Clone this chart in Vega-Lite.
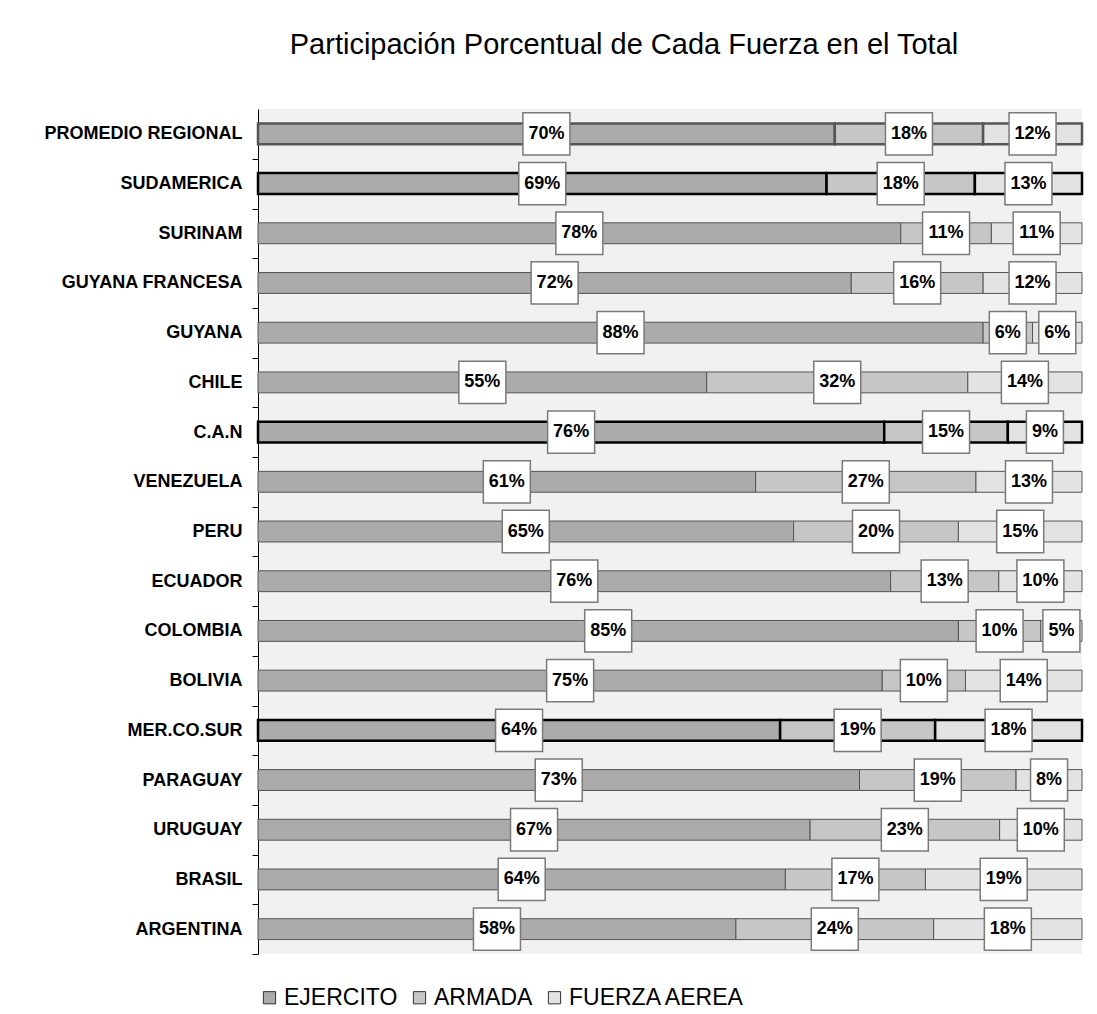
{
  "$schema": "https://vega.github.io/schema/vega-lite/v6.json",
  "width": 824,
  "height": 845,
  "autosize": {"type": "pad"},
  "padding": {"left": 8, "top": 31, "right": 12, "bottom": 4},
  "background": "white",
  "config": {
    "view": {"fill": "#f1f1f1", "stroke": null},
    "font": "Liberation Sans"
  },
  "title": {
    "text": "Participación Porcentual de Cada Fuerza en el Total",
    "font": "Liberation Sans",
    "fontSize": 29,
    "fontWeight": "normal",
    "color": "black",
    "anchor": "middle",
    "dx": -46,
    "offset": 49
  },
  "data": {
    "values": [
      {"pais": "PROMEDIO REGIONAL", "tipo": "regional", "fuerza": "EJERCITO", "orden": 1, "pct": 70},
      {"pais": "PROMEDIO REGIONAL", "tipo": "regional", "fuerza": "ARMADA", "orden": 2, "pct": 18},
      {"pais": "PROMEDIO REGIONAL", "tipo": "regional", "fuerza": "FUERZA AEREA", "orden": 3, "pct": 12},
      {"pais": "SUDAMERICA", "tipo": "bloque", "fuerza": "EJERCITO", "orden": 1, "pct": 69},
      {"pais": "SUDAMERICA", "tipo": "bloque", "fuerza": "ARMADA", "orden": 2, "pct": 18},
      {"pais": "SUDAMERICA", "tipo": "bloque", "fuerza": "FUERZA AEREA", "orden": 3, "pct": 13},
      {"pais": "SURINAM", "tipo": "pais", "fuerza": "EJERCITO", "orden": 1, "pct": 78},
      {"pais": "SURINAM", "tipo": "pais", "fuerza": "ARMADA", "orden": 2, "pct": 11},
      {"pais": "SURINAM", "tipo": "pais", "fuerza": "FUERZA AEREA", "orden": 3, "pct": 11},
      {"pais": "GUYANA FRANCESA", "tipo": "pais", "fuerza": "EJERCITO", "orden": 1, "pct": 72},
      {"pais": "GUYANA FRANCESA", "tipo": "pais", "fuerza": "ARMADA", "orden": 2, "pct": 16},
      {"pais": "GUYANA FRANCESA", "tipo": "pais", "fuerza": "FUERZA AEREA", "orden": 3, "pct": 12},
      {"pais": "GUYANA", "tipo": "pais", "fuerza": "EJERCITO", "orden": 1, "pct": 88},
      {"pais": "GUYANA", "tipo": "pais", "fuerza": "ARMADA", "orden": 2, "pct": 6},
      {"pais": "GUYANA", "tipo": "pais", "fuerza": "FUERZA AEREA", "orden": 3, "pct": 6},
      {"pais": "CHILE", "tipo": "pais", "fuerza": "EJERCITO", "orden": 1, "pct": 55},
      {"pais": "CHILE", "tipo": "pais", "fuerza": "ARMADA", "orden": 2, "pct": 32},
      {"pais": "CHILE", "tipo": "pais", "fuerza": "FUERZA AEREA", "orden": 3, "pct": 14},
      {"pais": "C.A.N", "tipo": "bloque", "fuerza": "EJERCITO", "orden": 1, "pct": 76},
      {"pais": "C.A.N", "tipo": "bloque", "fuerza": "ARMADA", "orden": 2, "pct": 15},
      {"pais": "C.A.N", "tipo": "bloque", "fuerza": "FUERZA AEREA", "orden": 3, "pct": 9},
      {"pais": "VENEZUELA", "tipo": "pais", "fuerza": "EJERCITO", "orden": 1, "pct": 61},
      {"pais": "VENEZUELA", "tipo": "pais", "fuerza": "ARMADA", "orden": 2, "pct": 27},
      {"pais": "VENEZUELA", "tipo": "pais", "fuerza": "FUERZA AEREA", "orden": 3, "pct": 13},
      {"pais": "PERU", "tipo": "pais", "fuerza": "EJERCITO", "orden": 1, "pct": 65},
      {"pais": "PERU", "tipo": "pais", "fuerza": "ARMADA", "orden": 2, "pct": 20},
      {"pais": "PERU", "tipo": "pais", "fuerza": "FUERZA AEREA", "orden": 3, "pct": 15},
      {"pais": "ECUADOR", "tipo": "pais", "fuerza": "EJERCITO", "orden": 1, "pct": 76},
      {"pais": "ECUADOR", "tipo": "pais", "fuerza": "ARMADA", "orden": 2, "pct": 13},
      {"pais": "ECUADOR", "tipo": "pais", "fuerza": "FUERZA AEREA", "orden": 3, "pct": 10},
      {"pais": "COLOMBIA", "tipo": "pais", "fuerza": "EJERCITO", "orden": 1, "pct": 85},
      {"pais": "COLOMBIA", "tipo": "pais", "fuerza": "ARMADA", "orden": 2, "pct": 10},
      {"pais": "COLOMBIA", "tipo": "pais", "fuerza": "FUERZA AEREA", "orden": 3, "pct": 5},
      {"pais": "BOLIVIA", "tipo": "pais", "fuerza": "EJERCITO", "orden": 1, "pct": 75},
      {"pais": "BOLIVIA", "tipo": "pais", "fuerza": "ARMADA", "orden": 2, "pct": 10},
      {"pais": "BOLIVIA", "tipo": "pais", "fuerza": "FUERZA AEREA", "orden": 3, "pct": 14},
      {"pais": "MER.CO.SUR", "tipo": "bloque", "fuerza": "EJERCITO", "orden": 1, "pct": 64},
      {"pais": "MER.CO.SUR", "tipo": "bloque", "fuerza": "ARMADA", "orden": 2, "pct": 19},
      {"pais": "MER.CO.SUR", "tipo": "bloque", "fuerza": "FUERZA AEREA", "orden": 3, "pct": 18},
      {"pais": "PARAGUAY", "tipo": "pais", "fuerza": "EJERCITO", "orden": 1, "pct": 73},
      {"pais": "PARAGUAY", "tipo": "pais", "fuerza": "ARMADA", "orden": 2, "pct": 19},
      {"pais": "PARAGUAY", "tipo": "pais", "fuerza": "FUERZA AEREA", "orden": 3, "pct": 8},
      {"pais": "URUGUAY", "tipo": "pais", "fuerza": "EJERCITO", "orden": 1, "pct": 67},
      {"pais": "URUGUAY", "tipo": "pais", "fuerza": "ARMADA", "orden": 2, "pct": 23},
      {"pais": "URUGUAY", "tipo": "pais", "fuerza": "FUERZA AEREA", "orden": 3, "pct": 10},
      {"pais": "BRASIL", "tipo": "pais", "fuerza": "EJERCITO", "orden": 1, "pct": 64},
      {"pais": "BRASIL", "tipo": "pais", "fuerza": "ARMADA", "orden": 2, "pct": 17},
      {"pais": "BRASIL", "tipo": "pais", "fuerza": "FUERZA AEREA", "orden": 3, "pct": 19},
      {"pais": "ARGENTINA", "tipo": "pais", "fuerza": "EJERCITO", "orden": 1, "pct": 58},
      {"pais": "ARGENTINA", "tipo": "pais", "fuerza": "ARMADA", "orden": 2, "pct": 24},
      {"pais": "ARGENTINA", "tipo": "pais", "fuerza": "FUERZA AEREA", "orden": 3, "pct": 18}
    ]
  },
  "transform": [
    {"stack": "pct", "groupby": ["pais"], "sort": [{"field": "orden", "order": "ascending"}], "offset": "normalize", "as": ["x0", "x1"]},
    {"calculate": "(datum.x0 + datum.x1) / 2", "as": "mid"},
    {"calculate": "datum.pct + '%'", "as": "etiqueta"}
  ],
  "encoding": {
    "y": {
      "field": "pais",
      "type": "nominal",
      "sort": ["PROMEDIO REGIONAL", "SUDAMERICA", "SURINAM", "GUYANA FRANCESA", "GUYANA", "CHILE", "C.A.N", "VENEZUELA", "PERU", "ECUADOR", "COLOMBIA", "BOLIVIA", "MER.CO.SUR", "PARAGUAY", "URUGUAY", "BRASIL", "ARGENTINA"],
      "scale": {"paddingInner": 0.58, "paddingOuter": 0.29},
      "axis": {
        "title": null,
        "labelFont": "Liberation Sans",
        "labelFontSize": 18,
        "labelFontWeight": "bold",
        "labelColor": "black",
        "labelPadding": 10,
        "labelLimit": 0,
        "labelOffset": -25,
        "domainColor": "black",
        "tickColor": "black",
        "tickSize": 6,
        "tickOffset": 25,
        "grid": false,
        "minExtent": 250,
        "maxExtent": 250
      }
    }
  },
  "layer": [
    {
      "mark": {"type": "bar"},
      "encoding": {
        "x": {"field": "x0", "type": "quantitative", "scale": {"domain": [0, 1], "nice": false}, "axis": null},
        "x2": {"field": "x1"},
        "fill": {
          "field": "fuerza",
          "type": "nominal",
          "scale": {"domain": ["EJERCITO", "ARMADA", "FUERZA AEREA"], "range": ["#ababab", "#c6c6c6", "#e3e3e3"]},
          "legend": {
            "title": null,
            "orient": "bottom",
            "direction": "horizontal",
            "offset": 32,
            "symbolType": "square",
            "symbolSize": 150,
            "symbolStrokeColor": "#333",
            "symbolStrokeWidth": 1,
            "labelFont": "Liberation Sans",
            "labelFontSize": 23,
            "labelColor": "black",
            "labelOffset": 3,
            "labelLimit": 0,
            "columnPadding": 10
          }
        },
        "stroke": {"condition": {"test": "datum.tipo === 'bloque'", "value": "#000000"}, "value": "#555555"},
        "strokeWidth": {"condition": {"test": "datum.tipo !== 'pais'", "value": 2.5}, "value": 1}
      }
    },
    {
      "transform": [{"filter": "datum.pct >= 10"}],
      "mark": {"type": "point", "shape": "M-1,-0.9H1V0.9H-1Z", "size": 2209, "filled": true, "fill": "white", "stroke": "#7a7a7a", "strokeWidth": 1.5, "opacity": 1},
      "encoding": {
        "x": {"field": "mid", "type": "quantitative"}
      }
    },
    {
      "transform": [{"filter": "datum.pct < 10"}],
      "mark": {"type": "point", "shape": "M-1,-1.14H1V1.14H-1Z", "size": 1369, "filled": true, "fill": "white", "stroke": "#7a7a7a", "strokeWidth": 1.5, "opacity": 1},
      "encoding": {
        "x": {"field": "mid", "type": "quantitative"}
      }
    },
    {
      "mark": {"type": "text", "font": "Liberation Sans", "fontSize": 18, "fontWeight": "bold", "color": "black", "align": "center", "baseline": "middle"},
      "encoding": {
        "x": {"field": "mid", "type": "quantitative"},
        "text": {"field": "etiqueta", "type": "nominal"}
      }
    }
  ]
}
